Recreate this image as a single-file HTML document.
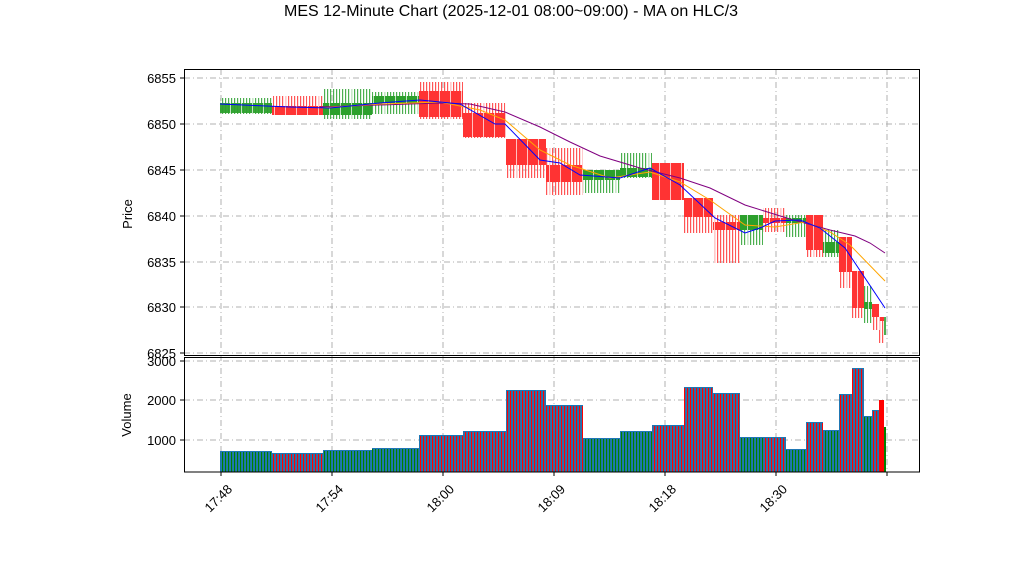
<!DOCTYPE html>
<html><head><meta charset="utf-8"><style>body{margin:0;background:#fff}svg{display:block;font-family:"Liberation Sans",sans-serif}</style></head><body>
<svg width="1022" height="575" viewBox="0 0 1022 575">
<defs>
<pattern id="sg" width="3" height="10" patternUnits="userSpaceOnUse"><rect x="0" y="0" width="1.2" height="10" fill="#4caf50"/></pattern>
<pattern id="sr" width="3" height="10" patternUnits="userSpaceOnUse"><rect x="0" y="0" width="1.2" height="10" fill="#ff5555"/></pattern>
<pattern id="vg" width="3" height="10" patternUnits="userSpaceOnUse"><rect x="0" y="0" width="1.1" height="10" fill="#008000"/></pattern>
<pattern id="vr" width="3" height="10" patternUnits="userSpaceOnUse"><rect x="0" y="0" width="1.1" height="10" fill="#ff0000"/></pattern>
<pattern id="gap" width="11" height="10" patternUnits="userSpaceOnUse"><rect x="10" y="0" width="1" height="10" fill="#fff"/></pattern>
</defs>
<text x="511" y="16" font-size="16" text-anchor="middle">MES 12-Minute Chart (2025-12-01 08:00~09:00) - MA on HLC/3</text>
<g stroke="#b0b0b0" stroke-width="1" stroke-dasharray="6,3,1,3">
<line x1="184" y1="78" x2="920" y2="78"/><line x1="184" y1="124" x2="920" y2="124"/><line x1="184" y1="170" x2="920" y2="170"/><line x1="184" y1="216" x2="920" y2="216"/><line x1="184" y1="262" x2="920" y2="262"/><line x1="184" y1="307" x2="920" y2="307"/><line x1="184" y1="353" x2="920" y2="353"/>
<line x1="184" y1="361" x2="920" y2="361"/><line x1="184" y1="400" x2="920" y2="400"/><line x1="184" y1="440" x2="920" y2="440"/>
<line x1="221" y1="69" x2="221" y2="472"/><line x1="332" y1="69" x2="332" y2="472"/><line x1="443" y1="69" x2="443" y2="472"/><line x1="554" y1="69" x2="554" y2="472"/><line x1="665" y1="69" x2="665" y2="472"/><line x1="776" y1="69" x2="776" y2="472"/><line x1="887" y1="69" x2="887" y2="472"/>
</g>
<g id="candles">
<rect x="220" y="98" width="52" height="16" fill="url(#sg)"/><rect x="220" y="103" width="52" height="10" fill="#2ca02c" opacity=".95"/>
<rect x="272" y="96" width="51" height="19" fill="url(#sr)"/><rect x="272" y="106" width="51" height="9" fill="#ff3333"/>
<rect x="323" y="89" width="49" height="30" fill="url(#sg)"/><rect x="323" y="103" width="49" height="12" fill="#2ca02c"/>
<rect x="372" y="92" width="47" height="22" fill="url(#sg)"/><rect x="372" y="96" width="47" height="7" fill="#2ca02c"/>
<rect x="419" y="82" width="44" height="37" fill="url(#sr)"/><rect x="419" y="91" width="44" height="26" fill="#ff3333"/>
<rect x="463" y="103" width="43" height="35" fill="url(#sr)"/><rect x="463" y="113" width="43" height="24" fill="#ff3333"/>
<rect x="506" y="139" width="40" height="39" fill="url(#sr)"/><rect x="506" y="139" width="40" height="26" fill="#ff3333"/>
<rect x="546" y="148" width="37" height="47" fill="url(#sr)"/><rect x="546" y="165" width="37" height="17" fill="#ff3333"/>
<rect x="583" y="170" width="37" height="23" fill="url(#sg)"/><rect x="583" y="170" width="37" height="10" fill="#2ca02c"/>
<rect x="620" y="153" width="32" height="25" fill="url(#sg)"/><rect x="620" y="168" width="32" height="9" fill="#2ca02c"/>
<rect x="652" y="163" width="32" height="37" fill="#ff3333"/>
<rect x="684" y="198" width="29" height="35" fill="url(#sr)"/><rect x="684" y="198" width="29" height="19" fill="#ff3333"/>
<rect x="713" y="215" width="27" height="48" fill="url(#sr)"/><rect x="713" y="222" width="27" height="8" fill="#ff3333"/>
<rect x="740" y="215" width="23" height="30" fill="url(#sg)"/><rect x="740" y="215" width="23" height="15" fill="#2ca02c"/>
<rect x="763" y="208" width="23" height="24" fill="url(#sr)"/><rect x="763" y="218" width="23" height="5" fill="#ff3333"/>
<rect x="786" y="215" width="20" height="22" fill="url(#sg)"/><rect x="786" y="218" width="20" height="5" fill="#2ca02c"/>
<rect x="806" y="215" width="17" height="42" fill="url(#sr)"/><rect x="806" y="215" width="17" height="35" fill="#ff3333"/>
<rect x="823" y="230" width="16" height="27" fill="url(#sg)"/><rect x="823" y="242" width="16" height="11" fill="#2ca02c"/>
<rect x="839" y="237" width="13" height="51" fill="url(#sr)"/><rect x="839" y="237" width="13" height="35" fill="#ff3333"/>
<rect x="852" y="271" width="12" height="47" fill="url(#sr)"/><rect x="852" y="271" width="12" height="37" fill="#ff3333"/>
<rect x="864" y="286" width="8" height="37" fill="url(#sg)"/><rect x="864" y="302" width="8" height="7" fill="#2ca02c"/>
<rect x="872" y="304" width="7" height="26" fill="url(#sr)"/><rect x="872" y="304" width="7" height="13" fill="#ff3333"/>
<rect x="879" y="317" width="5" height="26" fill="url(#sr)"/><rect x="879" y="317" width="5" height="4" fill="#ff3333"/>
<rect x="884" y="317" width="2" height="18" fill="#4caf50"/>
<rect x="220" y="80" width="666" height="250" fill="url(#gap)" opacity=".7"/>
</g>
<g fill="none" stroke-width="1">
<polyline stroke="#800080" points="320,107 440,103 470,104 505,112 540,127 570,142 600,156 640,168 680,178 710,188 745,205 790,219 830,230 855,236 870,243 885,253"/>
<polyline stroke="#ffa500" points="320,108 380,104 440,102 480,110 505,120 540,150 570,165 610,178 650,172 680,182 710,200 745,225 775,227 805,222 830,232 850,245 885,281"/>
<polyline stroke="#0000ff" points="220,104 290,107 330,108 380,103 420,100 460,104 495,124 505,124 540,160 560,163 580,175 620,178 650,168 680,185 715,218 745,233 760,228 775,221 800,220 820,228 845,248 885,308"/>
</g>
<g id="vol">
<rect x="220" y="451" width="52" height="21" fill="#1f77b4"/><rect x="220" y="452" width="52" height="20" fill="url(#vg)"/>
<rect x="272" y="453" width="51" height="19" fill="#1f77b4"/><rect x="272" y="454" width="51" height="18" fill="url(#vr)"/>
<rect x="323" y="450" width="49" height="22" fill="#1f77b4"/><rect x="323" y="451" width="49" height="21" fill="url(#vg)"/>
<rect x="372" y="448" width="47" height="24" fill="#1f77b4"/><rect x="372" y="449" width="47" height="23" fill="url(#vg)"/>
<rect x="419" y="435" width="44" height="37" fill="#1f77b4"/><rect x="419" y="436" width="44" height="36" fill="url(#vr)"/>
<rect x="463" y="431" width="43" height="41" fill="#1f77b4"/><rect x="463" y="432" width="43" height="40" fill="url(#vr)"/>
<rect x="506" y="390" width="40" height="82" fill="#1f77b4"/><rect x="506" y="391" width="40" height="81" fill="url(#vr)"/>
<rect x="546" y="405" width="37" height="67" fill="#1f77b4"/><rect x="546" y="406" width="37" height="66" fill="url(#vr)"/>
<rect x="583" y="438" width="37" height="34" fill="#1f77b4"/><rect x="583" y="439" width="37" height="33" fill="url(#vg)"/>
<rect x="620" y="431" width="32" height="41" fill="#1f77b4"/><rect x="620" y="432" width="32" height="40" fill="url(#vg)"/>
<rect x="652" y="425" width="32" height="47" fill="#1f77b4"/><rect x="652" y="426" width="32" height="46" fill="url(#vr)"/>
<rect x="684" y="387" width="29" height="85" fill="#1f77b4"/><rect x="684" y="388" width="29" height="84" fill="url(#vr)"/>
<rect x="713" y="393" width="27" height="79" fill="#1f77b4"/><rect x="713" y="394" width="27" height="78" fill="url(#vr)"/>
<rect x="740" y="437" width="23" height="35" fill="#1f77b4"/><rect x="740" y="438" width="23" height="34" fill="url(#vg)"/>
<rect x="763" y="437" width="23" height="35" fill="#1f77b4"/><rect x="763" y="438" width="23" height="34" fill="url(#vr)"/>
<rect x="786" y="449" width="20" height="23" fill="#1f77b4"/><rect x="786" y="450" width="20" height="22" fill="url(#vg)"/>
<rect x="806" y="422" width="17" height="50" fill="#1f77b4"/><rect x="806" y="423" width="17" height="49" fill="url(#vr)"/>
<rect x="823" y="430" width="16" height="42" fill="#1f77b4"/><rect x="823" y="431" width="16" height="41" fill="url(#vg)"/>
<rect x="839" y="394" width="13" height="78" fill="#1f77b4"/><rect x="839" y="395" width="13" height="77" fill="url(#vr)"/>
<rect x="852" y="368" width="12" height="104" fill="#1f77b4"/><rect x="852" y="369" width="12" height="103" fill="url(#vr)"/>
<rect x="864" y="416" width="8" height="56" fill="#1f77b4"/><rect x="864" y="417" width="8" height="55" fill="url(#vg)"/>
<rect x="872" y="410" width="7" height="62" fill="#1f77b4"/><rect x="872" y="411" width="7" height="61" fill="url(#vr)"/>
<rect x="879" y="400" width="5" height="72" fill="#ff0000"/>
<rect x="884" y="427" width="2" height="45" fill="#008000"/>
</g>
<g fill="none" stroke="#000" stroke-width="1">
<rect x="184.5" y="69.5" width="735" height="286"/>
<rect x="184.5" y="357.5" width="735" height="114.5"/>
</g>
<g stroke="#000">
<line x1="180" y1="78" x2="184" y2="78"/><line x1="180" y1="124" x2="184" y2="124"/><line x1="180" y1="170" x2="184" y2="170"/><line x1="180" y1="216" x2="184" y2="216"/><line x1="180" y1="262" x2="184" y2="262"/><line x1="180" y1="307" x2="184" y2="307"/><line x1="180" y1="353" x2="184" y2="353"/>
<line x1="180" y1="361" x2="184" y2="361"/><line x1="180" y1="400" x2="184" y2="400"/><line x1="180" y1="440" x2="184" y2="440"/>
<line x1="221" y1="472" x2="221" y2="476"/><line x1="332" y1="472" x2="332" y2="476"/><line x1="443" y1="472" x2="443" y2="476"/><line x1="554" y1="472" x2="554" y2="476"/><line x1="665" y1="472" x2="665" y2="476"/><line x1="776" y1="472" x2="776" y2="476"/><line x1="887" y1="472" x2="887" y2="476"/>
</g>
<g font-size="13" text-anchor="end">
<text x="176" y="83">6855</text><text x="176" y="129">6850</text><text x="176" y="175">6845</text><text x="176" y="221">6840</text><text x="176" y="267">6835</text><text x="176" y="312">6830</text><text x="176" y="358">6825</text>
<text x="176" y="366">3000</text><text x="176" y="405">2000</text><text x="176" y="445">1000</text>
</g>
<g font-size="13" text-anchor="end">
<text transform="translate(233,490) rotate(-45)">17:48</text>
<text transform="translate(344,490) rotate(-45)">17:54</text>
<text transform="translate(455,490) rotate(-45)">18:00</text>
<text transform="translate(566,490) rotate(-45)">18:09</text>
<text transform="translate(677,490) rotate(-45)">18:18</text>
<text transform="translate(788,490) rotate(-45)">18:30</text>
</g>
<text transform="translate(132,214) rotate(-90)" font-size="13" text-anchor="middle">Price</text>
<text transform="translate(131,415) rotate(-90)" font-size="13" text-anchor="middle">Volume</text>
</svg>
</body></html>
